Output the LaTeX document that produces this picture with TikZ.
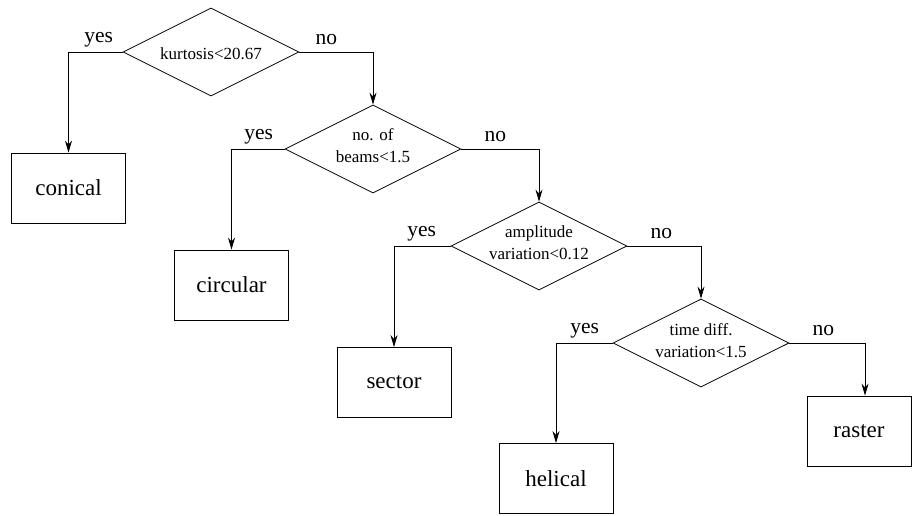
\documentclass[tikz,border=0pt]{standalone}
\usepackage{fontspec}
\setmainfont{Liberation Serif}
\usetikzlibrary{shapes.geometric,arrows.meta,calc}
\begin{document}
\begin{tikzpicture}[x=1pt,y=-1pt,
 dia/.style={draw,diamond,minimum width=176pt,minimum height=88pt,inner sep=0pt,line width=0.8pt},
 dtext/.style={font=\fontsize{17}{22}\selectfont,align=center,inner sep=0pt},
 leaf/.style={draw,rectangle,minimum width=114pt,minimum height=70pt,line width=0.8pt,font=\fontsize{23}{27}\selectfont},
 lbl/.style={font=\fontsize{21.5}{25}\selectfont,inner sep=0pt},
 conn/.style={draw,line width=0.8pt,-{Stealth[length=12pt,width=7pt]}}]
\useasboundingbox (0,0) rectangle (912,515);
% decisions
\node[dia] (d1) at (211,52) {};
\node[dia] (d2) at (373,149) {};
\node[dia] (d3) at (539,246) {};
\node[dia] (d4) at (701,343) {};
\node[dtext] (t1) at ($(d1)+(0,2)$) {kurtosis<20.67};
\node[dtext] (t2) at ($(d2)+(0,-3)$) {no. of\\beams<1.5};
\node[dtext] (t3) at ($(d3)+(0,-3)$) {amplitude\\variation<0.12};
\node[dtext] (t4) at ($(d4)+(0,-2)$) {time diff.\\variation<1.5};
% leaves
\node[leaf] (conical) at (68.5,188) {conical};
\node[leaf] (circular) at (231.5,285) {circular};
\node[leaf] (sector) at (394,382.5) {sector};
\node[leaf] (helical) at (556,478.5) {helical};
\node[leaf,minimum width=104pt] (raster) at (859,431) {raster};
% connectors
\draw[conn] (d1.west) -| (conical.north);
\draw[conn] (d1.east) -| (d2.north);
\draw[conn] (d2.west) -| (circular.north);
\draw[conn] (d2.east) -| (d3.north);
\draw[conn] (d3.west) -| (sector.north);
\draw[conn] (d3.east) -| (d4.north);
\draw[conn] (d4.west) -| (helical.north);
\draw[conn] (d4.east) -| ([xshift=6pt]raster.north);
% labels
\node[lbl] (y1) at ($(d1.west)+(-24,-12)$) {yes};
\node[lbl] (n1) at ($(d1.east)+(27,-12)$) {no};
\node[lbl] (y2) at ($(d2.west)+(-26,-12)$) {yes};
\node[lbl] (n2) at ($(d2.east)+(34,-12)$) {no};
\node[lbl] (y3) at ($(d3.west)+(-29,-12)$) {yes};
\node[lbl] (n3) at ($(d3.east)+(34,-12)$) {no};
\node[lbl] (y4) at ($(d4.west)+(-28,-12)$) {yes};
\node[lbl] (n4) at ($(d4.east)+(34,-12)$) {no};
\end{tikzpicture}
\end{document}
